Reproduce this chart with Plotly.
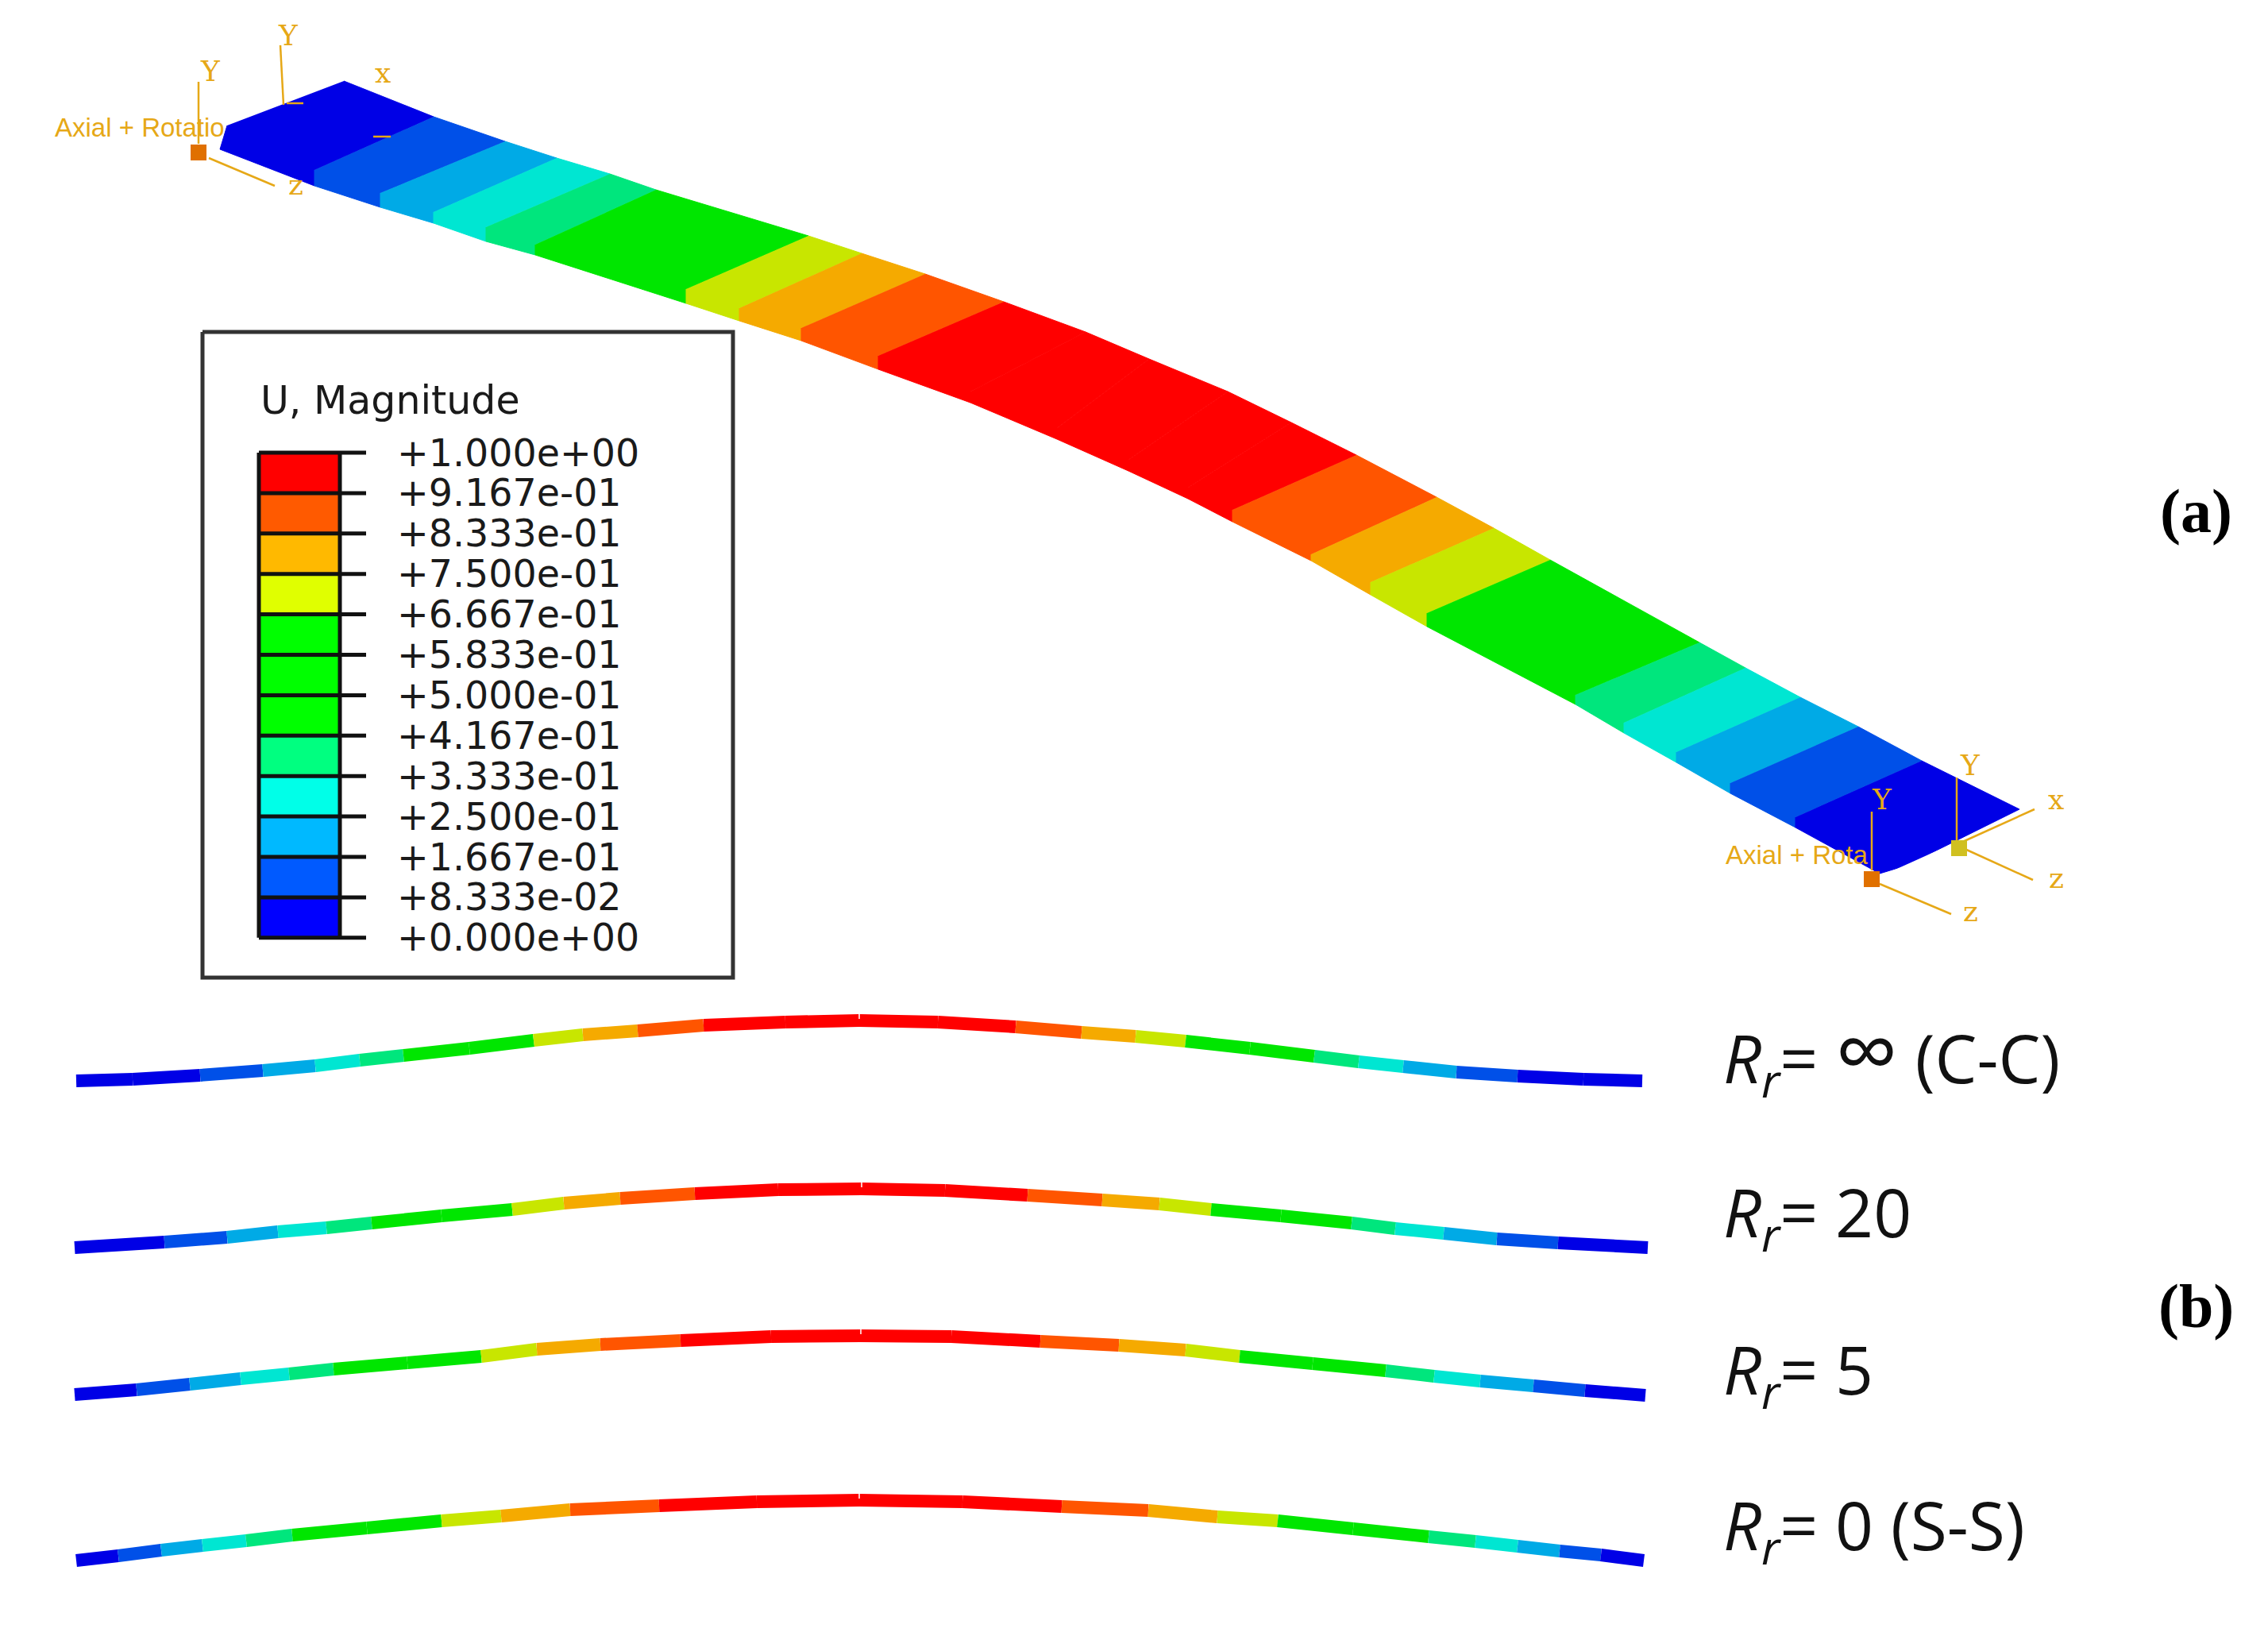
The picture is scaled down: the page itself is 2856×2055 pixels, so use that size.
"""U magnitude contour of a beam, isometric view plus four side views."""
import plotly.graph_objects as go

# Picture coordinates are pixels of the 2856x2055 page
PAGE_W = 2856
PAGE_H = 2055
BODY_MARGIN = 8

# Legend
legend_title = "U, Magnitude"
legend_labels = [
    "+1.000e+00", "+9.167e-01", "+8.333e-01", "+7.500e-01", "+6.667e-01",
    "+5.833e-01", "+5.000e-01", "+4.167e-01", "+3.333e-01", "+2.500e-01",
    "+1.667e-01", "+8.333e-02", "+0.000e+00",
]
legend_colors = [
    "#ff0000", "#ff5a00", "#ffb900", "#e0ff00", "#00ff00", "#00ff00",
    "#00ff00", "#00ff80", "#00ffe8", "#00b9ff", "#005aff", "#0000ff",
]

# Contour bands as shaded on the model
band_colors = {
    "dark": "#0000e6", "blue": "#0050e8", "light": "#00aae6", "cyan": "#00e6d2",
    "mint": "#00e67d", "green": "#00e600", "yellow": "#c8e600", "orange": "#f5aa00",
    "redorange": "#ff5500", "red": "#ff0000",
}

# Isometric beam: stations along the far edge, the top front edge and the lower edge
beam_back_x = [433, 546, 636, 701, 768, 826, 1018, 1085, 1165, 1264, 1367, 1447, 1546, 1626, 1708, 1809, 1881, 1952, 2140, 2198, 2267, 2340, 2420, 2543]
beam_back_y = [102, 147, 178, 199, 219, 239, 297, 319, 345, 380, 418, 452, 493, 532, 573, 626, 665, 705, 809, 841, 878, 915, 958, 1019]
beam_mid_x = [286, 396, 479, 546, 612, 674, 864, 931, 1009, 1106, 1222, 1331, 1421, 1496, 1552, 1651, 1726, 1797, 1984, 2045, 2111, 2179, 2261, 2400]
beam_mid_y = [158, 214, 243, 267, 286, 308, 364, 388, 413, 448, 493, 539, 579, 614, 642, 698, 733, 772, 875, 910, 947, 986, 1029, 1090]
beam_low_x = [277, 396, 479, 546, 612, 674, 864, 931, 1009, 1106, 1222, 1331, 1421, 1496, 1552, 1651, 1726, 1797, 1984, 2045, 2111, 2179, 2261, 2367]
beam_low_y = [188, 234, 261, 281, 304, 321, 382, 404, 429, 465, 507, 553, 593, 628, 657, 706, 749, 789, 887, 923, 960, 999, 1042, 1100]
beam_bands = [
    "dark", "blue", "light", "cyan", "mint", "green", "yellow", "orange", "redorange",
    "red", "red", "red", "red", "red", "redorange", "orange", "yellow", "green", "mint", "cyan",
    "light", "blue", "dark",
]

# Side views, centre line of each deflected shape
cc_x = [96, 167, 252, 331, 397, 453, 508, 591, 672, 734, 803, 886, 989, 1082, 1181, 1279, 1362, 1430, 1493, 1574, 1655, 1711, 1767, 1834, 1911, 1994, 2068]
cc_y = [1361, 1359, 1354, 1348, 1342, 1335, 1329, 1320, 1310, 1303, 1298, 1291, 1287, 1285, 1287, 1293, 1300, 1305, 1311, 1320, 1330, 1337, 1343, 1350, 1355, 1359, 1361]
cc_bands = ["dark", "dark", "blue", "light", "cyan", "mint", "green", "green", "yellow", "orange", "redorange",
            "red", "red", "red", "red", "redorange", "orange", "yellow", "green", "green", "mint", "cyan",
            "light", "blue", "dark", "dark"]

rr20_x = [94, 207, 286, 350, 411, 468, 556, 645, 710, 781, 875, 980, 1085, 1190, 1294, 1388, 1460, 1525, 1613, 1702, 1757, 1818, 1885, 1962, 2075]
rr20_y = [1571, 1564, 1558, 1551, 1546, 1540, 1531, 1523, 1515, 1509, 1503, 1498, 1497, 1499, 1505, 1511, 1516, 1523, 1531, 1540, 1547, 1553, 1560, 1565, 1571]
rr20_bands = ["dark", "blue", "light", "cyan", "mint", "green", "green", "yellow", "orange", "redorange",
              "red", "red", "red", "red", "redorange", "orange", "yellow", "green", "green", "mint", "cyan",
              "light", "blue", "dark"]

rr5_x = [94, 172, 239, 303, 364, 420, 513, 606, 676, 756, 857, 971, 1084, 1198, 1310, 1409, 1493, 1561, 1653, 1745, 1806, 1864, 1931, 1996, 2072]
rr5_y = [1756, 1750, 1743, 1736, 1730, 1724, 1716, 1708, 1699, 1693, 1688, 1683, 1682, 1683, 1689, 1694, 1700, 1708, 1717, 1726, 1733, 1739, 1745, 1751, 1757]
rr5_bands = rr20_bands

rr0_x = [96, 149, 203, 255, 310, 368, 462, 556, 631, 718, 830, 953, 1082, 1212, 1337, 1446, 1533, 1609, 1704, 1799, 1858, 1911, 1964, 2016, 2070]
rr0_y = [1965, 1959, 1952, 1946, 1940, 1933, 1924, 1915, 1909, 1901, 1896, 1891, 1889, 1891, 1897, 1902, 1910, 1915, 1925, 1935, 1941, 1947, 1953, 1958, 1965]
rr0_bands = rr20_bands

INF = "<span style='font-size:112px'>∞</span>"
side_labels = [
    "<i>R</i><sub><i>r</i></sub>= " + INF + " (C-C)",
    "<i>R</i><sub><i>r</i></sub>= 20",
    "<i>R</i><sub><i>r</i></sub>= 5",
    "<i>R</i><sub><i>r</i></sub>= 0 (S-S)",
]
side_label_y = [1321, 1530, 1728, 1924]
panel_labels = ["(a)", "(b)"]
panel_label_y = [643, 1644]

# Boundary condition triads
triad_lines = [
    ([250, 250], [103, 181]),
    ([263, 346], [199, 234]),
    ([353, 357], [57, 132]),
    ([361, 382], [130, 130]),
    ([470, 492], [172, 172]),
    ([2464, 2464], [979, 1062]),
    ([2467, 2562], [1062, 1019]),
    ([2472, 2560], [1068, 1108]),
    ([2357, 2357], [1022, 1096]),
    ([2367, 2457], [1113, 1151]),
]
triad_text = [
    ("Y", 265, 89), ("Y", 363, 44), ("x", 482, 91), ("z", 372, 232),
    ("Y", 2481, 963), ("x", 2589, 1006), ("z", 2589, 1105),
    ("Y", 2370, 1006), ("z", 2481, 1147),
]
node_x = [250, 2357, 2467]
node_y = [192, 1107, 1068]
node_colors = ["#e07000", "#e07000", "#d0c020"]
set_labels = [("Axial + Rotatio", 67, 160), ("Axial + Rota", 2171, 1076)]

TRIAD_COLOR = "#e6a817"

fig = go.Figure()


def add_polygon(xs, ys, color):
    fig.add_trace(go.Scatter(
        x=xs, y=ys, mode="lines", fill="toself", fillcolor=color,
        line=dict(color=color, width=1), hoverinfo="skip",
    ))


def add_line(xs, ys, color, width):
    fig.add_trace(go.Scatter(
        x=xs, y=ys, mode="lines", line=dict(color=color, width=width),
        hoverinfo="skip",
    ))


def add_label(text, x, y, size, color="#000000", family="DejaVu Sans", xanchor="left"):
    fig.add_annotation(
        x=x, y=y, text=text, showarrow=False, xanchor=xanchor, yanchor="middle",
        xref="x", yref="y", font=dict(size=size, color=color, family=family),
    )


# Isometric beam
for i, band in enumerate(beam_bands):
    add_polygon(
        [beam_back_x[i], beam_back_x[i + 1], beam_mid_x[i + 1], beam_low_x[i + 1], beam_low_x[i], beam_mid_x[i]],
        [beam_back_y[i], beam_back_y[i + 1], beam_mid_y[i + 1], beam_low_y[i + 1], beam_low_y[i], beam_mid_y[i]],
        band_colors[band],
    )
# White sliver along the far end of the beam
add_line([2378, 2538], [1100, 1028], "#ffffff", 2)

# Side views
for xs, ys, bands in [(cc_x, cc_y, cc_bands), (rr20_x, rr20_y, rr20_bands),
                      (rr5_x, rr5_y, rr5_bands), (rr0_x, rr0_y, rr0_bands)]:
    for i, band in enumerate(bands):
        add_line(xs[i:i + 2], ys[i:i + 2], band_colors[band], 16)
    # small mesh tick at mid span
    peak = ys.index(min(ys))
    add_line([xs[peak], xs[peak]], [ys[peak] - 8, ys[peak] - 2], "#ffffff", 1.5)

# Triads
for xs, ys in triad_lines:
    add_line(xs, ys, TRIAD_COLOR, 2.5)
fig.add_trace(go.Scatter(
    x=node_x, y=node_y, mode="markers", hoverinfo="skip",
    marker=dict(symbol="square", size=20, color=node_colors),
))
for text, x, y in triad_text:
    add_label(text, x, y, 36, TRIAD_COLOR, "DejaVu Serif", xanchor="center")
for text, x, y in set_labels:
    add_label(text, x, y, 33, TRIAD_COLOR, "Liberation Sans")

# Legend frame and colour bar
box_left, box_right, box_top, box_bottom = 255, 923, 418, 1231
add_line([box_left, box_right, box_right, box_left, box_left],
         [box_top, box_top, box_bottom, box_bottom, box_top], "#333333", 5)
bar_left, bar_right, tick_right = 326, 428, 461
bar_top, row_step = 570, 50.9
for i, color in enumerate(legend_colors):
    y0 = bar_top + i * row_step
    add_polygon([bar_left, bar_right, bar_right, bar_left], [y0, y0, y0 + row_step, y0 + row_step], color)
for i, label in enumerate(legend_labels):
    y0 = bar_top + i * row_step
    add_line([bar_left, tick_right], [y0, y0], "#111111", 5)
    add_label(label, 498, y0, 47.5, "#1a1a1a")
add_line([bar_left, bar_left], [bar_top, bar_top + 12 * row_step], "#111111", 5)
add_line([bar_right, bar_right], [bar_top, bar_top + 12 * row_step], "#111111", 5)
add_label(legend_title, 326, 504, 49, "#1a1a1a")

# Right hand captions
for text, y in zip(side_labels, side_label_y):
    add_label(text, 2168, y, 84, "#111111", "Open Sans")
for text, y in zip(panel_labels, panel_label_y):
    add_label("<b>" + text + "</b>", 2765, y, 78, "#000000", "Liberation Serif", xanchor="center")

fig.update_layout(
    width=PAGE_W - 2 * BODY_MARGIN,
    height=PAGE_H - 2 * BODY_MARGIN,
    margin=dict(l=0, r=0, t=0, b=0),
    showlegend=False,
    plot_bgcolor="white",
    paper_bgcolor="white",
)
fig.update_xaxes(range=[BODY_MARGIN, PAGE_W - BODY_MARGIN], visible=False)
fig.update_yaxes(range=[PAGE_H - BODY_MARGIN, BODY_MARGIN], visible=False)

fig.write_html("out.html")
